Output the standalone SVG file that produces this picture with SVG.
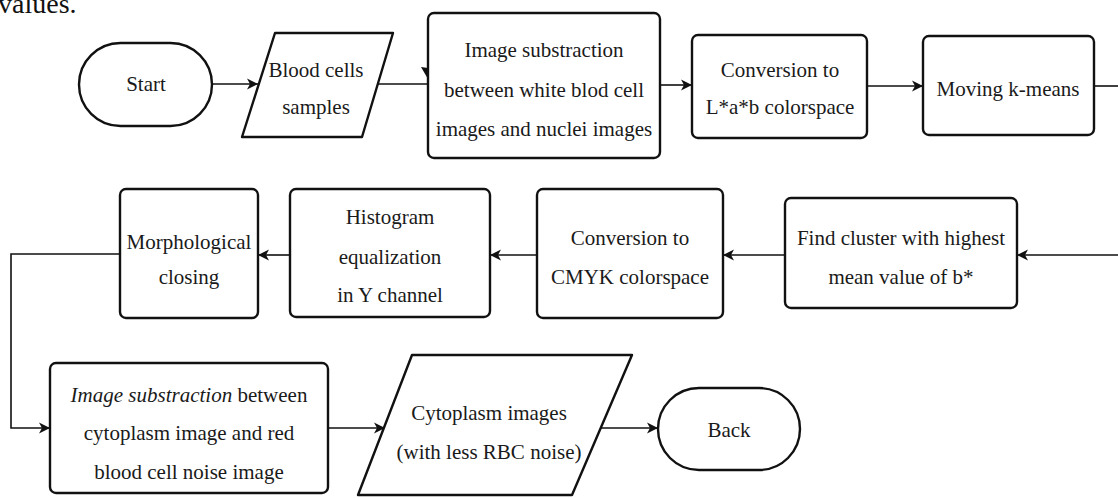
<svg xmlns="http://www.w3.org/2000/svg" width="1118" height="498" viewBox="0 0 1118 498" font-family="Liberation Serif, Times New Roman, serif">
<style>
  .box { fill: #fff; stroke: #111; stroke-width: 2.4; stroke-linejoin: round; }
  .t { font-size: 21px; fill: #1a1a1a; text-anchor: middle; }
  .c { fill: none; stroke: #111; stroke-width: 1.6; }
  .ca { fill: none; stroke: #111; stroke-width: 1.6; marker-end: url(#arr); }
</style>
<defs>
  <marker id="arr" markerWidth="12" markerHeight="12" refX="11" refY="6" orient="auto" markerUnits="userSpaceOnUse">
    <path d="M0,0.5 L11,6 L0,11.5 L3,6 z" fill="#111"/>
  </marker>
</defs>
<rect width="1118" height="498" fill="#fff"/>
<text x="-2" y="13" font-size="28" fill="#111">values.</text>

<g id="connectors">
  <path class="ca" d="M212,84 H258"/>
  <path class="c" d="M377,84 H428"/>
  <path d="M421,67 L428,68 L428,79 z" fill="#111"/>
  <path class="ca" d="M660,85 H692"/>
  <path class="ca" d="M867,86 H923"/>
  <path class="c" d="M1094,86 H1118"/>
  <path class="ca" d="M1118,255 H1017"/>
  <path class="ca" d="M785,255 H723"/>
  <path class="ca" d="M537,255 H490"/>
  <path class="ca" d="M290,255 H258"/>
  <path class="ca" d="M120,254 H11 V428 H50"/>
  <path class="ca" d="M328,428 H385"/>
  <path class="ca" d="M601,428 H658"/>
</g>

<g id="start">
  <rect class="box" x="79" y="43" width="133" height="83" rx="41.5"/>
  <text class="t" x="146" y="91" font-family="Liberation Serif, serif">Start</text>
</g>

<g id="blood-cells">
  <polygon class="box" points="275,33 393,33 362,137 242,137"/>
  <text class="t" x="316" y="77" font-family="Liberation Serif, serif">Blood cells</text>
  <text class="t" x="316" y="114" font-family="Liberation Serif, serif">samples</text>
</g>

<g id="image-sub-1" font-family="Liberation Serif, serif">
  <rect class="box" x="428" y="13" width="232" height="145" rx="6"/>
  <text class="t" x="544" y="57">Image substraction</text>
  <text class="t" x="544" y="97">between white blod cell</text>
  <text class="t" x="544" y="136">images and nuclei images</text>
</g>

<g id="conv-lab" font-family="Liberation Serif, serif">
  <rect class="box" x="692" y="35" width="175" height="103" rx="6"/>
  <text class="t" x="780" y="77">Conversion to</text>
  <text class="t" x="780" y="114">L*a*b colorspace</text>
</g>

<g id="kmeans" font-family="Liberation Serif, serif">
  <rect class="box" x="923" y="36" width="171" height="99" rx="6"/>
  <text class="t" x="1008" y="96">Moving k-means</text>
</g>

<g id="find-cluster" font-family="Liberation Serif, serif">
  <rect class="box" x="785" y="198" width="232" height="110" rx="6"/>
  <text class="t" x="901" y="245">Find cluster with highest</text>
  <text class="t" x="901" y="284">mean value of b*</text>
</g>

<g id="conv-cmyk" font-family="Liberation Serif, serif">
  <rect class="box" x="537" y="189" width="186" height="129" rx="6"/>
  <text class="t" x="630" y="245">Conversion to</text>
  <text class="t" x="630" y="284">CMYK colorspace</text>
</g>

<g id="histogram" font-family="Liberation Serif, serif">
  <rect class="box" x="290" y="189" width="200" height="128" rx="6"/>
  <text class="t" x="390" y="224">Histogram</text>
  <text class="t" x="390" y="264">equalization</text>
  <text class="t" x="390" y="302">in Y channel</text>
</g>

<g id="morph" font-family="Liberation Serif, serif">
  <rect class="box" x="120" y="189" width="138" height="129" rx="6"/>
  <text class="t" x="189" y="249">Morphological</text>
  <text class="t" x="189" y="284">closing</text>
</g>

<g id="image-sub-2" font-family="Liberation Serif, serif">
  <rect class="box" x="50" y="363" width="278" height="130" rx="6"/>
  <text class="t" x="189" y="402"><tspan font-style="italic">Image substraction</tspan> between</text>
  <text class="t" x="189" y="440">cytoplasm image and red</text>
  <text class="t" x="189" y="479">blood cell noise image</text>
</g>

<g id="cytoplasm" font-family="Liberation Serif, serif">
  <polygon class="box" points="412,355 632,355 572,495 358,495"/>
  <text class="t" x="489" y="420">Cytoplasm images</text>
  <text class="t" x="489" y="459">(with less RBC noise)</text>
</g>

<g id="back" font-family="Liberation Serif, serif">
  <rect class="box" x="658" y="388" width="142" height="82" rx="41"/>
  <text class="t" x="729" y="437">Back</text>
</g>
</svg>
